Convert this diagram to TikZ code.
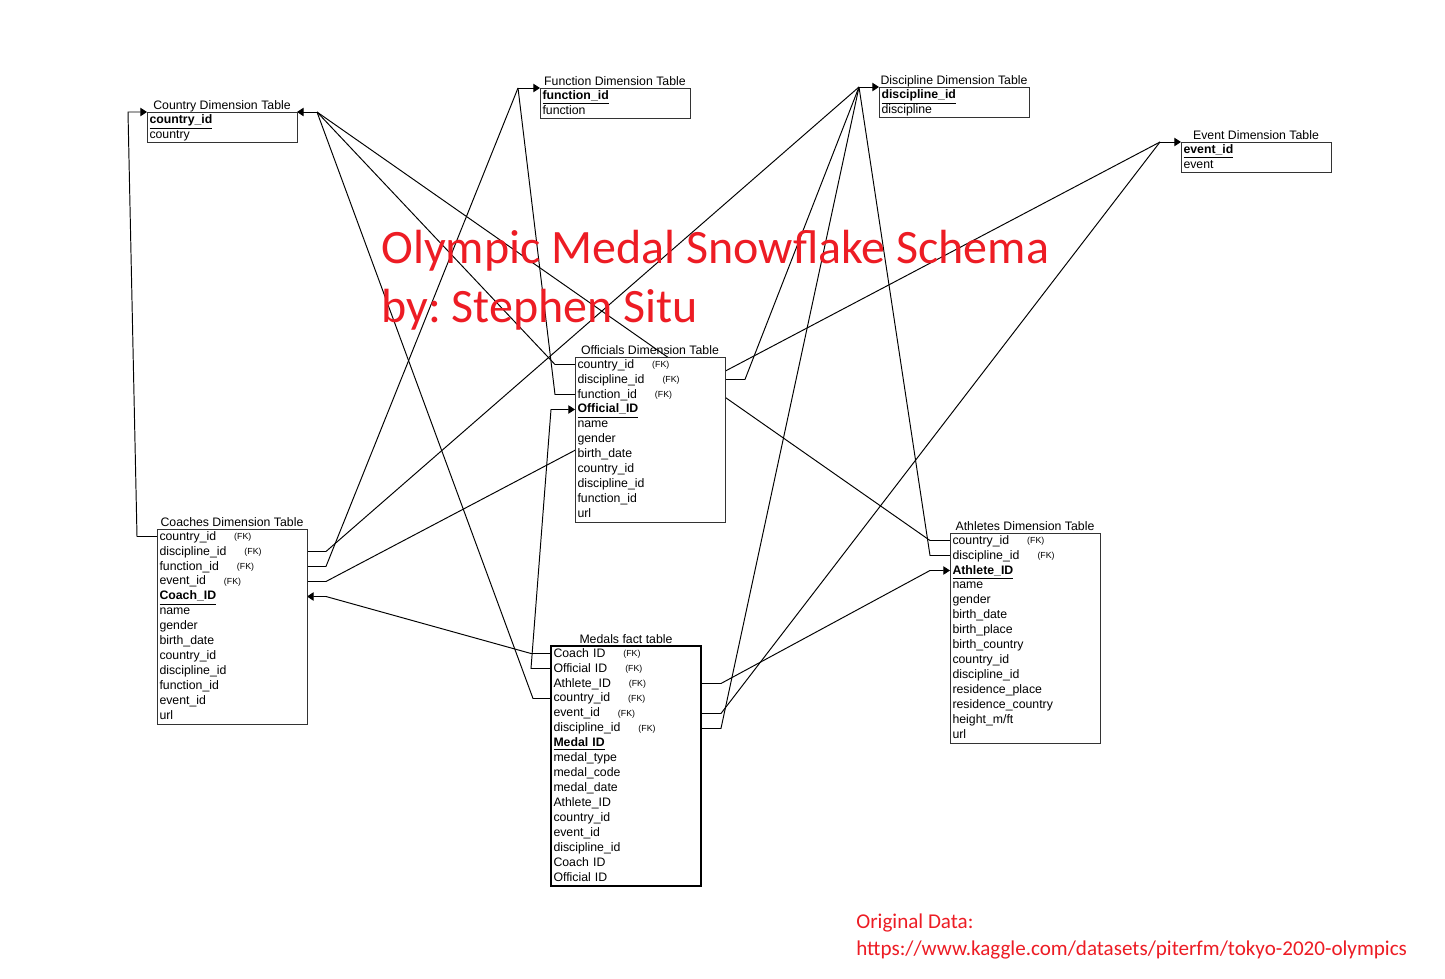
\documentclass[tikz,border=0pt]{standalone}
\usepackage{fontspec}
\setmainfont{Liberation Sans}
\newfontfamily\calibri{Carlito}
\usetikzlibrary{arrows.meta,backgrounds,calc}
\definecolor{titlered}{RGB}{237,28,36}
\newcommand{\tabfont}{\fontsize{7}{8.4}\selectfont}
\newcommand{\fk}[1]{#1\hspace{0.36cm}{\fontsize{5}{6}\selectfont\raisebox{0.5pt}{(FK)}}}
\newcommand{\pk}[1]{\underline{\textbf{#1}}}
\tikzset{
  conn/.style={draw=black, line width=0.55pt},
  arr/.style={-{Triangle[length=3.8pt,width=4.8pt]}},
  tabbox/.style={draw=black!80, fill=white, line width=0.5pt, anchor=north west, minimum width=3cm, inner sep=0pt, outer sep=0pt},
  tabrow/.style={anchor=north west, text width=2.9cm, inner xsep=0.05cm, inner ysep=0pt, minimum height=0.3cm, text height=0.17cm, text depth=0.03cm, font=\tabfont, align=left, outer sep=0pt},
  tabtitle/.style={anchor=base, font=\tabfont, inner sep=0pt},
  redtext/.style={anchor=base west, inner sep=0pt, text=titlered},
}
\newcommand{\ertable}[6][]{%
  \node[tabbox, minimum height=#5*0.3cm, #1] (#2) at (#3) {};
  \node[tabtitle] (#2-title) at ([yshift=0.05cm]#2.north) {#4};
  \foreach \rowtxt [count=\rowno] in {#6} {%
    \node[tabrow] (#2-\rowno) at ([yshift=-(\rowno-1)*0.3cm]#2.north west) {\rowtxt};}
}
\begin{document}
\begin{tikzpicture}[x=0.02cm, y=-0.02cm]
\useasboundingbox (0,0) rectangle (1445,978);

% tables
\ertable{cty}{147,112}{Country Dimension Table}{2}{\pk{country\_id}, country}
\ertable{fun}{540,88}{Function Dimension Table}{2}{\pk{function\_id}, function}
\ertable{dis}{879,87}{Discipline Dimension Table}{2}{\pk{discipline\_id}, discipline}
\ertable{evt}{1181,142}{Event Dimension Table}{2}{\pk{event\_id}, event}
\ertable{off}{575,357}{Officials Dimension Table}{11}{\fk{country\_id}, \fk{discipline\_id}, \fk{function\_id}, \pk{Official\_ID}, name, gender, birth\_date, country\_id, discipline\_id, function\_id, url}
\ertable{coa}{157,529}{Coaches Dimension Table}{13}{\fk{country\_id}, \fk{discipline\_id}, \fk{function\_id}, \fk{event\_id}, \pk{Coach\_ID}, name, gender, birth\_date, country\_id, discipline\_id, function\_id, event\_id, url}
\ertable[draw=black, line width=1.2pt]{med}{551,646}{Medals fact table}{16}{\fk{Coach ID}, \fk{Official ID}, \fk{Athlete\_ID}, \fk{country\_id}, \fk{event\_id}, \fk{discipline\_id}, \pk{Medal ID}, medal\_type, medal\_code, medal\_date, Athlete\_ID, country\_id, event\_id, discipline\_id, Coach ID, Official ID}
\ertable{ath}{950,533}{Athletes Dimension Table}{14}{\fk{country\_id}, \fk{discipline\_id}, \pk{Athlete\_ID}, name, gender, birth\_date, birth\_place, birth\_country, country\_id, discipline\_id, residence\_place, residence\_country, height\_m/ft, url}

% hubs
\coordinate (ctyhub) at (317,112);
\coordinate (coabend) at (128,112);
\coordinate (funhub) at (518,88);
\coordinate (dishub) at (859,87);
\coordinate (evthub) at (1160,142);

\begin{scope}[on background layer]
\fill[white] (0,0) rectangle (1445,978);
% country
\draw[conn, arr] (coa-1.west) -- ++(-20,0) -- (coabend) -- (cty.north west);
\draw[conn, arr] (ctyhub) -- (cty.north east);
\draw[conn] (off-1.west) -- ++(-20,0) -- (ctyhub);
\draw[conn] (med-4.west) -- ++(-18,0) -- (ctyhub);
\draw[conn] (ath-1.west) -- ++(-20,0) -- (ctyhub);
% function
\draw[conn, arr] (funhub) -- (fun.north west);
\draw[conn] (off-3.west) -- ++(-20,0) -- (funhub);
\draw[conn] (coa-3.east) -- ++(19,0) -- (funhub);
% discipline
\draw[conn, arr] (dishub) -- (dis.north west);
\draw[conn] (coa-2.east) -- ++(19,0) -- (dishub);
\draw[conn] (off-2.east) -- ++(20,0) -- (dishub);
\draw[conn] (med-6.east) -- ++(20,0) -- (dishub);
\draw[conn] (ath-2.west) -- ++(-20,0) -- (dishub);
% event
\draw[conn, arr] (evthub) -- (evt.north west);
\draw[conn] (coa-4.east) -- ++(19,0) -- (evthub);
\draw[conn] (med-5.east) -- ++(20,0) -- (evthub);
% ids
\draw[conn, arr] (med-2.west) -- ++(-20,0) -- ([xshift=-0.48cm]off-4.west) -- (off-4.west);
\draw[conn, arr] (med-1.west) -- ++(-20,0) -- ([xshift=0.38cm]coa-5.east) -- (coa-5.east);
\draw[conn, arr] (med-3.east) -- ++(20,0) -- ([xshift=-0.4cm]ath-3.west) -- (ath-3.west);
\end{scope}

% red texts
\node[redtext, font=\calibri\fontsize{27.3}{32}\selectfont] (title1) at (381,263) {Olympic Medal Snowflake Schema};
\node[redtext, font=\calibri\fontsize{27.3}{32}\selectfont] (title2) at (381,322) {by:\ Stephen Situ};
\node[redtext, font=\calibri\fontsize{12}{14}\selectfont] (src1) at (856,928) {Original Data:};
\node[redtext, font=\calibri\fontsize{12}{14}\selectfont] (src2) at (856,955) {https://www.kaggle.com/datasets/piterfm/tokyo-2020-olympics};
\end{tikzpicture}
\end{document}
